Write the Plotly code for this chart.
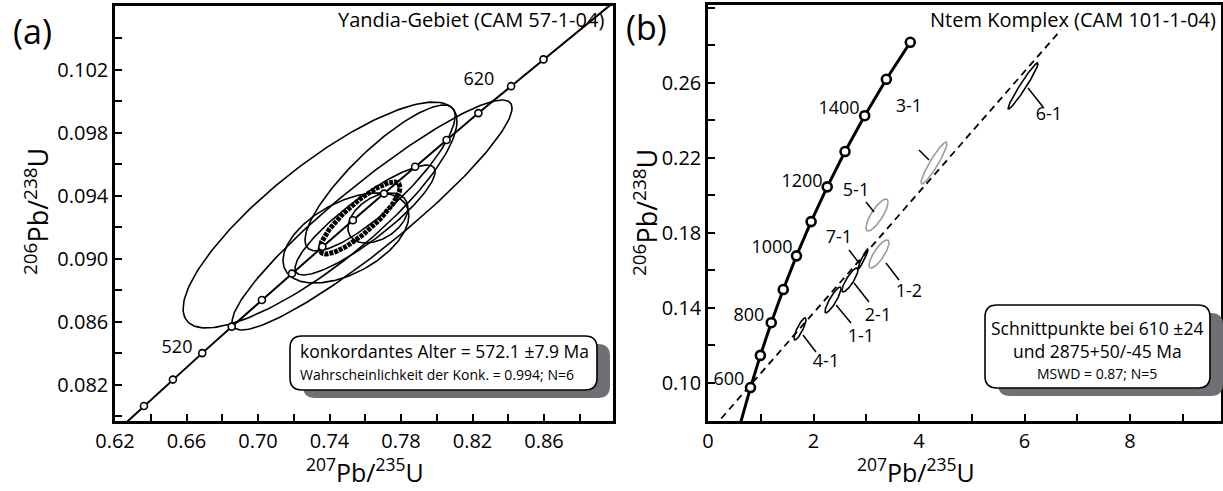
import numpy as np
import plotly.graph_objects as go

W, H = 1223, 491
FONT = "Open Sans"

# ---------------- Panel (a): Yandia-Gebiet ----------------
conc_a_age = [500, 510, 520, 530, 540, 550, 560, 570, 580, 590, 600, 610, 620, 630]
conc_a_x = [0.6362, 0.6524, 0.6688, 0.6853, 0.7022, 0.7190, 0.7360, 0.7531, 0.7705,
            0.7879, 0.8055, 0.8233, 0.8416, 0.8597]
conc_a_y = [0.08065, 0.08233, 0.08401, 0.08569, 0.08738, 0.08906, 0.09076, 0.09245,
            0.09414, 0.09584, 0.09754, 0.09925, 0.10096, 0.10266]
conc_a_end_x = [0.6202, 0.8968]
conc_a_end_y = [0.07897, 0.10609]
conc_a_lab = ["520", "620"]
conc_a_lab_x = [0.6547, 0.8236]
conc_a_lab_y = [0.08433, 0.10135]

# data ellipses (2 sigma): centre, half-extent in x and y, correlation
ell_a_x = [0.7347, 0.7638, 0.7492, 0.7683, 0.7671, 0.7599]
ell_a_y = [0.09278, 0.09278, 0.09132, 0.09513, 0.09259, 0.09246]
ell_a_sx = [0.0766, 0.0783, 0.0352, 0.0420, 0.0168, 0.0392]
ell_a_sy = [0.00717, 0.00730, 0.00286, 0.00463, 0.00159, 0.00349]
ell_a_rho = [0.83, 0.93, 0.50, 0.85, 0.40, 0.88]
# concordia age ellipse
cage_x, cage_y, cage_sx, cage_sy, cage_rho = 0.7571, 0.09259, 0.0224, 0.00229, 0.85

# ---------------- Panel (b): Ntem Komplex ----------------
conc_b_age = [600, 700, 800, 900, 1000, 1100, 1200, 1300, 1400, 1500, 1600]
conc_b_x = [0.8055, 0.9925, 1.1987, 1.4263, 1.6774, 1.9545, 2.2603, 2.5978, 2.9701, 3.3810, 3.8344]
conc_b_y = [0.09754, 0.11470, 0.13213, 0.14983, 0.16780, 0.18606, 0.20460, 0.22343,
            0.24256, 0.26198, 0.28171]
conc_b_start_x = [0.6202]
conc_b_start_y = [0.07897]
conc_b_lab = ["600", "800", "1000", "1200", "1400"]
conc_b_lab_x = [0.398, 0.777, 1.213, 1.782, 2.483]
conc_b_lab_y = [0.1011, 0.1352, 0.1715, 0.2067, 0.2461]

disc_x = [0.10, 6.69]
disc_y = [0.0762, 0.2883]

spot_name = ["4-1", "1-1", "2-1", "7-1", "6-1", "1-2", "5-1", "3-1"]
spot_used = [True, True, True, True, True, False, False, False]
spot_x = [1.744, 2.370, 2.692, 2.938, 5.972, 3.242, 3.204, 4.284]
spot_y = [0.1288, 0.1443, 0.1549, 0.1661, 0.2584, 0.1688, 0.1896, 0.2173]
spot_sx = [0.114, 0.152, 0.152, 0.095, 0.284, 0.190, 0.210, 0.246]
spot_sy = [0.0059, 0.0069, 0.0064, 0.0053, 0.0123, 0.0075, 0.0085, 0.0112]
spot_rho = [0.85, 0.88, 0.85, 0.95, 0.97, 0.80, 0.80, 0.93]
spot_lab_x = [2.237, 2.900, 3.223, 2.483, 6.464, 3.810, 2.806, 3.810]
spot_lab_y = [0.1107, 0.1245, 0.1357, 0.1773, 0.2429, 0.1485, 0.2019, 0.2467]
lead_x0 = [1.801, 2.427, 2.768, 2.673, 6.066, 3.374, 2.995, 4.000]
lead_y0 = [0.1256, 0.1416, 0.1533, 0.1709, 0.2573, 0.1640, 0.1965, 0.2243]
lead_x1 = [2.047, 2.711, 3.052, 2.863, 6.351, 3.621, 3.147, 4.190]
lead_y1 = [0.1165, 0.1320, 0.1432, 0.1640, 0.2472, 0.1549, 0.1912, 0.2189]


def ellipse(cx, cy, sx, sy, rho, n=200):
    t = np.linspace(0, 2 * np.pi, n)
    x = cx + sx * np.cos(t)
    y = cy + sy * (rho * np.cos(t) + np.sqrt(1 - rho ** 2) * np.sin(t))
    return x, y


fig = go.Figure()

# ---- panel a ----
for cx, cy, sx, sy, r in zip(ell_a_x, ell_a_y, ell_a_sx, ell_a_sy, ell_a_rho):
    ex, ey = ellipse(cx, cy, sx, sy, r)
    fig.add_trace(go.Scatter(x=ex, y=ey, mode="lines", line=dict(color="black", width=1.6),
                             xaxis="x", yaxis="y", hoverinfo="skip"))
ex, ey = ellipse(cage_x, cage_y, cage_sx, cage_sy, cage_rho)
fig.add_trace(go.Scatter(x=ex, y=ey, mode="lines", line=dict(color="black", width=5, dash="4px,1px"),
                         xaxis="x", yaxis="y", hoverinfo="skip"))
fig.add_trace(go.Scatter(x=[conc_a_end_x[0]] + conc_a_x + [conc_a_end_x[1]],
                         y=[conc_a_end_y[0]] + conc_a_y + [conc_a_end_y[1]],
                         mode="lines", line=dict(color="black", width=2), xaxis="x", yaxis="y"))
fig.add_trace(go.Scatter(x=conc_a_x, y=conc_a_y, mode="markers",
                         marker=dict(size=7, color="white", line=dict(color="black", width=1.6)),
                         xaxis="x", yaxis="y", text=conc_a_age))
fig.add_trace(go.Scatter(x=conc_a_lab_x, y=conc_a_lab_y, mode="text", text=conc_a_lab,
                         textfont=dict(family=FONT, size=18, color="black"), xaxis="x", yaxis="y"))

# ---- panel b ----
fig.add_trace(go.Scatter(x=disc_x, y=disc_y, mode="lines",
                         line=dict(color="black", width=1.8, dash="7px,5px"), xaxis="x2", yaxis="y2"))
for i in range(len(spot_name)):
    ex, ey = ellipse(spot_x[i], spot_y[i], spot_sx[i], spot_sy[i], spot_rho[i])
    col = "black" if spot_used[i] else "#9b9b9b"
    fig.add_trace(go.Scatter(x=ex, y=ey, mode="lines", line=dict(color=col, width=1.6),
                             xaxis="x2", yaxis="y2", hoverinfo="skip"))
    fig.add_trace(go.Scatter(x=[lead_x0[i], lead_x1[i]], y=[lead_y0[i], lead_y1[i]], mode="lines",
                             line=dict(color="black", width=1.5), xaxis="x2", yaxis="y2"))
fig.add_trace(go.Scatter(x=spot_lab_x, y=spot_lab_y, mode="text", text=spot_name,
                         textfont=dict(family=FONT, size=18, color="black"), xaxis="x2", yaxis="y2"))
fig.add_trace(go.Scatter(x=conc_b_start_x + conc_b_x, y=conc_b_start_y + conc_b_y, mode="lines",
                         line=dict(color="black", width=3), xaxis="x2", yaxis="y2"))
fig.add_trace(go.Scatter(x=conc_b_x, y=conc_b_y, mode="markers",
                         marker=dict(size=9, color="white", line=dict(color="black", width=2.6)),
                         xaxis="x2", yaxis="y2", text=conc_b_age))
fig.add_trace(go.Scatter(x=conc_b_lab_x, y=conc_b_lab_y, mode="text", text=conc_b_lab,
                         textfont=dict(family=FONT, size=18, color="black"), xaxis="x2", yaxis="y2"))


def px(x):
    return x / W


def py(y):
    return 1 - y / H


def rrect(x0, y0, x1, y1, r):
    rx, ry = r / W, r / H
    X0, X1, Y0, Y1 = px(x0), px(x1), py(y0), py(y1)
    return (f"M{X0+rx},{Y0} L{X1-rx},{Y0} Q{X1},{Y0} {X1},{Y0-ry} L{X1},{Y1+ry} "
            f"Q{X1},{Y1} {X1-rx},{Y1} L{X0+rx},{Y1} Q{X0},{Y1} {X0},{Y1+ry} "
            f"L{X0},{Y0-ry} Q{X0},{Y0} {X0+rx},{Y0} Z")


shapes = []
for (x0, y0, x1, y1) in [(290, 336, 597, 390), (985, 305, 1210, 388)]:
    shapes.append(dict(type="path", xref="paper", yref="paper", path=rrect(x0 + 13, y0 + 8, x1 + 13, y1 + 8, 12),
                       fillcolor="#6e7073", line=dict(width=0), layer="above"))
    shapes.append(dict(type="path", xref="paper", yref="paper", path=rrect(x0, y0, x1, y1, 12),
                       fillcolor="white", line=dict(color="black", width=1.6), layer="above"))


def ann(text, x, y, size, xanchor="center", yanchor="middle", angle=0):
    return dict(text=text, x=px(x), y=py(y), xref="paper", yref="paper", showarrow=False,
                xanchor=xanchor, yanchor=yanchor, textangle=angle,
                font=dict(family=FONT, size=size, color="black"))


annotations = [
    ann("(a)", 32, 31, 34),
    ann("(b)", 646, 27, 34),
    ann("Yandia-Gebiet (CAM 57-1-04)", 606, 20, 20, xanchor="right"),
    ann("Ntem Komplex (CAM 101-1-04)", 1218, 20, 20, xanchor="right"),
    ann("<sup>207</sup>Pb/<sup>235</sup>U", 365, 491, 25, yanchor="bottom"),
    ann("<sup>207</sup>Pb/<sup>235</sup>U", 916, 491, 25, yanchor="bottom"),
    ann("<sup>206</sup>Pb/<sup>238</sup>U", 36, 212, 27, angle=-90),
    ann("<sup>206</sup>Pb/<sup>238</sup>U", 645, 212, 27, angle=-90),
    ann("konkordantes Alter = 572.1 ±7.9 Ma", 298, 351, 17.5, xanchor="left"),
    ann("Wahrscheinlichkeit der Konk. = 0.994; N=6", 298, 374, 14, xanchor="left"),
    ann("Schnittpunkte bei 610 ±24", 1097, 328, 17.5),
    ann("und 2875+50/-45 Ma", 1097, 351, 17.5),
    ann("MSWD = 0.87; N=5", 1097, 373, 14),
]

axis_common = dict(showline=True, linewidth=2.5, linecolor="black", mirror=True, ticks="inside",
                   ticklen=7, tickwidth=1.6, tickcolor="black", showgrid=False, zeroline=False,
                   automargin=False, tickfont=dict(family=FONT, size=20, color="black"))

fig.update_layout(
    width=W, height=H, margin=dict(l=0, r=0, t=0, b=0), showlegend=False,
    paper_bgcolor="white", plot_bgcolor="white",
    xaxis=dict(domain=[px(115), px(613)], range=[0.62, 0.8986], dtick=0.04, tick0=0.62,
               tickformat=".2f", minor=dict(dtick=0.02, ticks="inside", ticklen=7, tickwidth=1.6,
                                            tickcolor="black"), anchor="y", **axis_common),
    yaxis=dict(domain=[py(421), py(6)], range=[0.0797, 0.10605], dtick=0.004, tick0=0.002,
               tickformat=".3f", minor=dict(dtick=0.002, ticks="inside", ticklen=7, tickwidth=1.6,
                                            tickcolor="black"), anchor="x", **axis_common),
    xaxis2=dict(domain=[px(708), px(1221)], range=[0, 9.725], dtick=2, tick0=0,
                minor=dict(dtick=1, ticks="inside", ticklen=7, tickwidth=1.6, tickcolor="black"),
                anchor="y2", **axis_common),
    yaxis2=dict(domain=[py(421), py(5)], range=[0.0797, 0.3016], dtick=0.04, tick0=0.02,
                tickformat=".2f", minor=dict(dtick=0.02, ticks="inside", ticklen=7, tickwidth=1.6,
                                             tickcolor="black"), anchor="x2", **axis_common),
    shapes=shapes, annotations=annotations,
)

fig.write_html("out.html", config={"displayModeBar": False},
               post_script="document.body.style.margin='0';document.body.style.overflow='hidden';")
